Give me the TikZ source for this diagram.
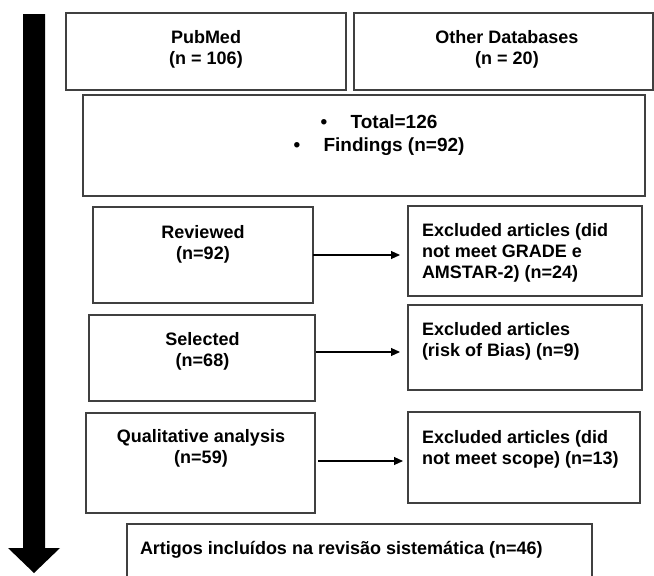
\documentclass[tikz,border=0pt]{standalone}
\usepackage{fontspec}
\setmainfont{Liberation Sans}
\usetikzlibrary{arrows.meta,calc}

\tikzset{
  box/.style={draw=black!75, line width=1.2pt, fill=white, inner sep=0pt, outer sep=0pt, anchor=north west},
  txt/.style={inner sep=0pt, outer sep=0pt, font=\fontsize{18}{21}\selectfont\bfseries},
  ctxt/.style={txt, align=center, anchor=north},
  ltxt/.style={txt, align=left, anchor=north west},
  flow/.style={draw=black, line width=1.1pt, -{Triangle[length=9pt,width=8pt]}},
}

\begin{document}
\begin{tikzpicture}[x=1pt, y=-1pt]
  \useasboundingbox (0,0) rectangle (654,576);
  \clip (0,0) rectangle (654,576);

  % vertical process arrow on the left
  \fill[black] (23,14) -- (45,14) -- (45,548) -- (60,548) -- (34,573)
               -- (8,548) -- (23,548) -- cycle;

  % sources
  \node[box, minimum width=280pt, minimum height=77pt] (pub) at (66,13) {};
  \node[box, minimum width=299pt, minimum height=77pt] (oth) at (354,13) {};
  \node[ctxt] (pubt) at (206,30.5) {PubMed\\(n = 106)};
  \node[ctxt] (otht) at (507,30.5) {Other Databases\\(n = 20)};

  % totals
  \node[box, minimum width=562pt, minimum height=101pt] (tot) at (83,95) {};
  \node[txt, align=center, anchor=north, font=\fontsize{19}{23}\selectfont\bfseries] (tott) at (379,115)
    {\makebox[30pt][l]{•}Total=126\\\makebox[30pt][l]{•}Findings (n=92)};

  % screening stages
  \node[box, minimum width=220pt, minimum height=96pt] (rev) at (93,207) {};
  \node[box, minimum width=234pt, minimum height=90pt] (ex1) at (408,206) {};
  \node[ctxt] (revt) at (203,225.5) {Reviewed\\(n=92)};
  \node[ltxt] (ex1t) at (422,223.5) {Excluded articles (did\\not meet GRADE e\\AMSTAR-2) (n=24)};

  \node[box, minimum width=226pt, minimum height=86pt] (sel) at (89,315) {};
  \node[box, minimum width=234pt, minimum height=85pt] (ex2) at (408,305) {};
  \node[ctxt] (selt) at (202.5,332.5) {Selected\\(n=68)};
  \node[ltxt] (ex2t) at (422,322.5) {Excluded articles\\(risk of Bias) (n=9)};

  \node[box, minimum width=229pt, minimum height=100pt] (qual) at (86,413) {};
  \node[box, minimum width=232pt, minimum height=91pt] (ex3) at (408,412) {};
  \node[ctxt] (qualt) at (201,429.5) {Qualitative analysis\\(n=59)};
  \node[ltxt] (ex3t) at (422,430.5) {Excluded articles (did\\not meet scope) (n=13)};

  % included
  \node[box, minimum width=465pt, minimum height=80pt] (fin) at (127,524) {};
  \node[ltxt] (fint) at (140,541.5) {Artigos incluídos na revisão sistemática (n=46)};

  % exclusion connectors
  \coordinate (a1) at ($(rev.north east)+(0,48)$);
  \coordinate (a2) at ($(sel.north east)+(1,37)$);
  \coordinate (a3) at ($(qual.north east)+(3,48)$);
  \draw[flow, shorten >=8pt] (a1) -- (a1 -| ex1.west);
  \draw[flow, shorten >=8pt] (a2) -- (a2 -| ex2.west);
  \draw[flow, shorten >=5pt] (a3) -- (a3 -| ex3.west);
\end{tikzpicture}
\end{document}
